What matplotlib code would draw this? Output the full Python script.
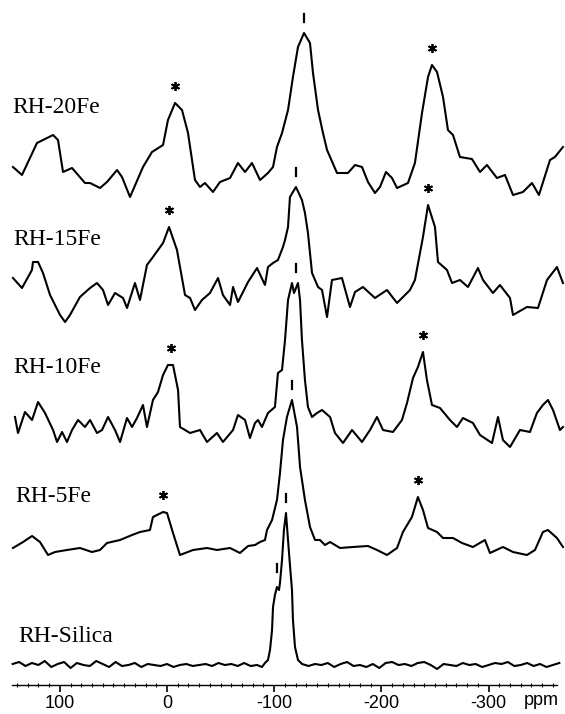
import numpy as np
import matplotlib
matplotlib.use("Agg")
import matplotlib.pyplot as plt

plt.rcParams['axes.unicode_minus'] = False

# 29Si MAS NMR traces, intensities (arbitrary units)
labels = ['RH-20Fe', 'RH-15Fe', 'RH-10Fe', 'RH-5Fe', 'RH-Silica']

ppm_20fe = [143.7, 135.3, 121.3, 106.3, 101.7, 97.0, 88.6, 76.5, 71.8, 62.5, 56.0, 46.6, 42.0, 34.5,
            22.4, 14.0, 3.7, -0.9, -7.5, -14.0, -19.6, -26.1, -30.8, -35.4, -42.9, -49.4, -58.8,
            -66.2, -72.8, -79.3, -86.8, -94.2, -98.9, -102.6, -107.3, -112.9, -117.5, -122.2,
            -127.8, -133.4, -136.2, -140.9, -145.5, -149.3, -158.6, -168.8, -175.4, -181.9,
            -187.5, -194.0, -198.7, -204.3, -209.9, -214.6, -224.8, -231.3, -237.9, -243.5,
            -247.2, -251.9, -257.5, -262.1, -266.8, -273.3, -284.5, -292.0, -298.5, -307.8,
            -315.3, -322.8, -332.1, -340.5, -347.0, -357.3, -361.9, -369.4]
int_20fe = [18, 10, 42, 50, 45, 13, 17, 2, 2, -3, 3, 15, 8, -12,
            18, 33, 40, 65, 82, 75, 52, 5, -2, 2, -7, 3, 7,
            22, 13, 22, 5, 12, 18, 38, 52, 75, 108, 138,
            152, 142, 112, 75, 52, 35, 12, 12, 20, 18,
            3, -8, -2, 13, 7, -3, 2, 22, 72, 108,
            120, 113, 88, 55, 50, 28, 26, 13, 20, 7,
            10, -10, -7, 2, -10, 25, 28, 38]

ppm_15fe = [143.7, 135.3, 126.0, 125.0, 120.3, 115.7, 109.1, 99.8, 95.1, 90.5, 81.2, 71.8, 65.3,
            59.7, 55.0, 48.5, 41.0, 37.3, 29.9, 25.2, 18.7, 13.1, 3.7, -1.9, -9.3, -16.8, -21.5,
            -26.1, -32.6, -40.1, -47.6, -52.2, -58.8, -61.6, -66.2, -75.6, -84.0, -91.4, -94.2,
            -98.9, -103.5, -108.2, -110.1, -112.9, -114.7, -120.3, -125.9, -128.7, -131.5,
            -135.3, -140.9, -144.6, -149.3, -153.9, -163.2, -170.7, -175.4, -182.8, -194.0,
            -205.2, -214.6, -226.7, -231.3, -238.8, -243.5, -250.0, -252.8, -261.2, -265.9,
            -273.3, -280.8, -290.1, -294.8, -304.1, -310.6, -320.0, -322.8, -335.8, -346.1,
            -354.5, -363.8, -369.4]
int_15fe = [17, 7, 25, 33, 33, 22, 0, -20, -27, -20, -2, 7, 12,
            5, -10, 2, -3, -13, 12, -5, 30, 38, 52, 68, 45, 0, -3,
            -15, -5, 2, 17, 0, -10, 8, -7, 13, 27, 10, 28,
            32, 35, 48, 55, 68, 98, 108, 95, 82, 62,
            22, 8, 5, -22, 15, 17, -12, 3, 8, -3,
            5, -8, 5, 15, 58, 90, 68, 33, 25, 12,
            15, 8, 27, 15, 2, 10, -3, -20, -12, -13,
            15, 28, 12]

ppm_10fe = [141.8, 139.0, 132.5, 125.9, 120.3, 113.8, 106.3, 102.6, 97.9, 93.3, 88.6, 83.0, 76.5,
            71.8, 65.3, 60.6, 55.0, 48.5, 43.8, 37.3, 32.6, 28.0, 22.4, 18.7, 13.1, 8.4, 3.7,
            -0.9, -5.6, -10.3, -12.1, -21.5, -30.8, -37.3, -46.6, -52.2, -61.6, -66.2, -72.8,
            -77.4, -82.1, -84.9, -88.6, -94.2, -100.7, -103.5, -107.3, -110.1, -112.9, -116.6,
            -118.5, -122.2, -124.1, -125.9, -128.7, -131.5, -135.3, -139.9, -144.6, -152.1,
            -156.7, -164.2, -172.6, -181.9, -189.4, -195.9, -201.5, -210.8, -219.2, -223.9,
            -229.5, -234.1, -238.8, -242.5, -247.2, -254.7, -264.0, -270.5, -276.1, -285.4,
            -292.0, -303.2, -308.8, -313.4, -320.0, -329.3, -338.6, -345.1, -350.7, -355.4,
            -360.1, -366.6, -369.4]
int_10fe = [13, -3, 18, 10, 28, 17, 0, -12, -2, -12, 0, 10, 3,
            10, -3, 0, 13, 0, -12, 12, 3, 12, 25, 3, 30, 38, 55,
            65, 65, 40, 3, -3, 0, -12, -3, -12, 0, 15, 10,
            -8, 7, 10, 3, 17, 23, 57, 60, 90, 130, 147,
            137, 147, 130, 90, 50, 23, 13, 17, 20, 13,
            -3, -13, 0, -12, 0, 13, 0, -2, 10, 27,
            52, 63, 78, 50, 25, 22, 10, 3, 12, 7,
            -5, -13, 13, -10, -17, 0, -2, 17, 25, 30,
            20, 0, 3]

ppm_5fe = [143.7, 134.3, 125.9, 118.5, 111.0, 104.5, 93.3, 81.2, 70.0, 62.5, 56.0, 43.8, 32.6,
           25.2, 15.9, 13.1, 3.7, 0.0, -5.6, -12.1, -24.3, -37.3, -46.6, -58.8, -68.1, -75.6,
           -82.1, -86.8, -91.4, -93.3, -98.0, -102.6, -105.4, -108.2, -111.9, -116.6, -121.3,
           -124.1, -128.7, -133.4, -138.1, -142.7, -147.4, -152.1, -161.4, -173.5, -187.5,
           -195.9, -205.2, -214.6, -220.1, -228.5, -234.1, -238.8, -243.5, -251.9, -257.5,
           -266.8, -275.2, -285.4, -296.6, -301.3, -313.4, -322.8, -335.8, -343.3, -350.7,
           -355.4, -363.8, -369.4]
int_5fe = [2, 8, 14, 8, -5, -2, 0, 2, -2, 0, 7, 10, 15,
           18, 20, 33, 38, 37, 17, -5, 0, 2, 0, 2, -3, 4,
           5, 8, 10, 20, 30, 50, 77, 110, 133, 150, 123,
           83, 50, 23, 10, 10, 5, 8, 2, 3, 4,
           0, -5, 2, 18, 33, 53, 40, 22, 18, 12,
           12, 7, 3, 10, -3, 3, -2, -5, 0, 18,
           20, 12, 3]

ppm_silica = [144, 138, 132, 126, 120, 114, 108, 102, 96, 90, 84, 78, 72, 66, 60, 54, 48, 42, 36,
              30, 24, 18, 12, 6, 0, -6, -12, -18, -24, -30, -36, -42, -48, -54, -60, -66, -72,
              -78, -84, -88.6, -91.4, -94.2, -96.1, -98.0, -98.9, -100.7, -102.6, -104.5, -105.4,
              -107.3, -109.1, -111.0, -112.9, -114.7, -116.6, -117.5, -119.4, -122.2, -126,
              -132, -138, -144, -150, -156, -162, -168, -174, -180, -186, -192, -198, -204, -210,
              -216, -222, -228, -234, -240, -246, -252, -258, -264, -270, -276, -282, -288, -294,
              -300, -306, -312, -318, -324, -330, -336, -342, -348, -354, -360, -366]
int_silica = [1, 3, -1, 2, 0, 4, -2, 1, 3, -3, 2, 0, -1, 4, 1, -2, 3, -1, 0,
              2, -2, 1, 0, -1, 1, -2, 0, 1, -1, 0, 1, -1, 2, 0, 1, -1, 2,
              -1, 0, -2, 2, 5, 15, 35, 58, 70, 78, 75, 82,
              105, 135, 152, 125, 100, 75, 45, 18, 5, 1,
              -1, 1, 0, 2, -2, 1, 3, -1, 0, -2, 1, -3, 2, 3,
              0, 1, -1, 2, 3, 0, -4, 1, 0, -1, 2, 0, 1, -2,
              0, 2, 1, 3, -1, 0, 2, -1, 1, -2, 0, 2]

ppms = [ppm_20fe, ppm_15fe, ppm_10fe, ppm_5fe, ppm_silica]
ints = [int_20fe, int_15fe, int_10fe, int_5fe, int_silica]

# peak annotations (ppm)
star_peaks = [[-7.5, -247.2], [-1.9, -243.5], [-3.7, -238.8], [3.7, -234.1], []]
bar_peaks = [[-127.8], [-120.3], [-120.3], [-116.6], [-111.0, -102.6]]

# vertical stacking offsets and label placement
offsets = [500, 390, 255, 135, 20]
label_y = [572, 440, 312, 183, 43]
label_x = [144.6, 143.7, 143.7, 141.8, 139.0]

fig = plt.figure(figsize=(5.65, 7.14), dpi=100)
ax = fig.add_axes([0, 29 / 714, 1, 685 / 714])

for p, v, off in zip(ppms, ints, offsets):
    ax.plot(p, np.array(v) + off, color='black', lw=1.5, solid_joinstyle='round')

def local_top(p, v, x0, win=4):
    p = np.array(p); v = np.array(v)
    m = np.abs(p - x0) <= win
    return v[m].max() if m.any() else np.interp(x0, p[::-1], v[::-1])

for p, v, off, stars, bars in zip(ppms, ints, offsets, star_peaks, bar_peaks):
    for s in stars:
        top = local_top(p, v, s) + off
        ax.plot(s, top + 17, marker=(6, 2, 0), ms=6.5, mew=1.3, color='black')
    for b in bars:
        top = local_top(p, v, b, win=3) + off
        ax.plot([b, b], [top + 11, top + 19], color='black', lw=1.6)

for name, x, y in zip(labels, label_x, label_y):
    ax.text(x, y, name, family='Liberation Serif', fontsize=17, ha='left', va='baseline')

ax.set_xlim(155.8, -371.3)
ax.set_ylim(0, 685)

for s in ['top', 'left', 'right']:
    ax.spines[s].set_visible(False)
ax.spines['bottom'].set_bounds(144.6, -364)
ax.spines['bottom'].set_linewidth(1.0)
ax.set_yticks([])
ax.set_xticks([100, 0, -100, -200, -300])
ax.set_xticks(np.arange(140, -370, -10), minor=True)
ax.tick_params(axis='x', which='major', direction='out', length=5, width=1.2,
               labelsize=13, pad=2)
ax.tick_params(axis='x', which='minor', direction='inout', length=3, width=0.8)
for t in ax.get_xticklabels():
    t.set_family('Liberation Sans')
ax.text(-349, -7, 'ppm', family='Liberation Sans', fontsize=13, ha='center', va='top')
ax.patch.set_visible(False)

fig.savefig('out.png', dpi=100)
